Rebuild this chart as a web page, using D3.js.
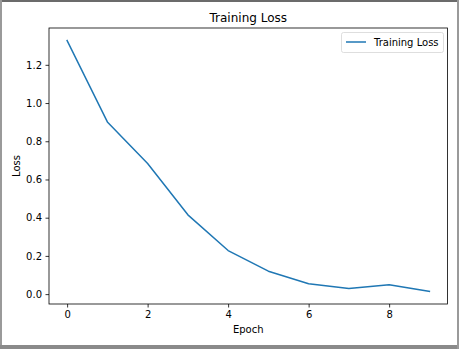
<!DOCTYPE html>
<html><head><meta charset="utf-8">
<script src="https://cdn.jsdelivr.net/npm/d3@7"></script>
<style>html,body{margin:0;padding:0;background:#fff;}svg{display:block;}</style>
</head><body>
<script>
const epochs = [0,1,2,3,4,5,6,7,8,9];
const trainingLoss = [1.327,0.901,0.684,0.415,0.228,0.12,0.054,0.030,0.049,0.014];
const xTicks = [0,2,4,6,8];
const yTicks = [0.0,0.2,0.4,0.6,0.8,1.0,1.2];
const titleText = "Training Loss";
const xLabel = "Epoch";
const yLabel = "Loss";
const seriesName = "Training Loss";

const W = 459, H = 349;
const m = {left:49, right:447.5, top:28, bottom:304};
const font = "'DejaVu Sans', sans-serif";
const svg = d3.select("body").append("svg").attr("width",W).attr("height",H);
svg.append("rect").attr("width",W).attr("height",H).attr("fill","#fff");

// screenshot frame
svg.append("rect").attr("x",0).attr("y",0).attr("width",W).attr("height",2).attr("fill","#6b6b6b");
svg.append("rect").attr("x",0).attr("y",0).attr("width",2).attr("height",H).attr("fill","#9a9a9a");
svg.append("rect").attr("x",0).attr("y",345).attr("width",W).attr("height",4).attr("fill","#8a8a8a");
svg.append("rect").attr("x",457).attr("y",0).attr("width",2).attr("height",H).attr("fill","#9a9a9a");

const x = d3.scaleLinear().domain([-0.45,9.45]).range([m.left,m.right]);
const y = d3.scaleLinear().domain([-0.0517,1.3927]).range([m.bottom,m.top]);

const gx = svg.append("g").attr("transform",`translate(0,${m.bottom})`)
  .call(d3.axisBottom(x).tickValues(xTicks).tickFormat(d3.format("d")).tickSizeOuter(0).tickSize(3.5).tickPadding(3.5));
const gy = svg.append("g").attr("transform",`translate(${m.left},0)`)
  .call(d3.axisLeft(y).tickValues(yTicks).tickFormat(d3.format(".1f")).tickSizeOuter(0).tickSize(3.5).tickPadding(3.5));
[gx,gy].forEach(g=>{
  g.select(".domain").remove();
  g.selectAll("line").attr("stroke","#000").attr("stroke-width",0.8);
  g.selectAll("text").attr("font-family",font).attr("font-size",10).attr("fill","#000");
});

const line = d3.line().x((d,i)=>x(epochs[i])).y(d=>y(d));
svg.append("path").datum(trainingLoss).attr("d",line)
  .attr("fill","none").attr("stroke","#1f77b4").attr("stroke-width",1.5)
  .attr("stroke-linejoin","round").attr("stroke-linecap","square");

svg.append("rect").attr("x",m.left).attr("y",m.top).attr("width",m.right-m.left).attr("height",m.bottom-m.top)
  .attr("fill","none").attr("stroke","#000").attr("stroke-width",0.8);

svg.append("text").attr("x",(m.left+m.right)/2).attr("y",22).attr("text-anchor","middle")
  .attr("font-family",font).attr("font-size",12).text(titleText);
svg.append("text").attr("x",(m.left+m.right)/2).attr("y",333).attr("text-anchor","middle")
  .attr("font-family",font).attr("font-size",10).text(xLabel);
svg.append("text").attr("transform",`translate(20,${(m.top+m.bottom)/2}) rotate(-90)`).attr("text-anchor","middle")
  .attr("font-family",font).attr("font-size",10).text(yLabel);

// legend
const lg = svg.append("g");
lg.append("rect").attr("x",341.5).attr("y",32.5).attr("width",102).attr("height",20).attr("rx",2)
  .attr("fill","#fff").attr("fill-opacity",0.8).attr("stroke","#d6d6d6").attr("stroke-width",0.8);
lg.append("line").attr("x1",346).attr("x2",366).attr("y1",42).attr("y2",42)
  .attr("stroke","#1f77b4").attr("stroke-width",1.5);
lg.append("text").attr("x",374).attr("y",46).attr("font-family",font).attr("font-size",10).text(seriesName);
</script>
</body></html>
